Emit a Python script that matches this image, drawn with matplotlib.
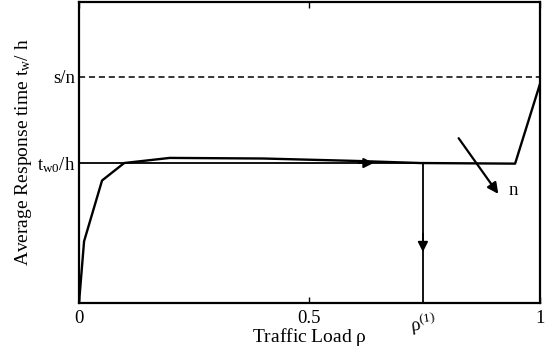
import matplotlib
matplotlib.use("Agg")
import matplotlib.pyplot as plt

plt.rcParams['font.family'] = ['Liberation Serif', 'DejaVu Serif']
plt.rcParams['mathtext.fontset'] = 'custom'
plt.rcParams['mathtext.rm'] = 'Liberation Serif'
plt.rcParams['mathtext.it'] = 'Liberation Serif'

# data
load = [0.0, 0.011, 0.05, 0.098, 0.197, 0.40, 0.60, 0.74, 0.946, 1.0]
resp = [0.0, 0.205, 0.407, 0.465, 0.482, 0.480, 0.472, 0.465, 0.463, 0.728]
s_over_n = 0.751
tw0_over_h = 0.465
rho1 = 0.746
xticks = [0, 0.5, 1]
xtick_labels = ['0', '0.5', '1']

fig = plt.figure(figsize=(5.49, 3.48), dpi=100)
ax = fig.add_axes([0.1439, 0.1293, 0.9836 - 0.1439, 0.9943 - 0.1293])
ax.set_xlim(0, 1)
ax.set_ylim(0, 1)

ax.plot(load, resp, color='black', lw=1.7)
ax.axhline(s_over_n, color='black', lw=1.1, ls=(0, (4, 2.5)))
ax.plot([0, rho1], [tw0_over_h, tw0_over_h], color='black', lw=1.3)
ax.plot([rho1, rho1], [0, tw0_over_h], color='black', lw=1.3)

# arrow heads
ax.annotate('', xy=(0.645, tw0_over_h), xytext=(0.60, tw0_over_h),
            arrowprops=dict(arrowstyle='-|>', color='black', lw=1.3,
                            mutation_scale=15))
ax.annotate('', xy=(rho1, 0.16), xytext=(rho1, 0.24),
            arrowprops=dict(arrowstyle='-|>', color='black', lw=1.3,
                            mutation_scale=15))
ax.annotate('', xy=(0.913, 0.355), xytext=(0.82, 0.555),
            arrowprops=dict(arrowstyle='-|>', color='black', lw=1.6,
                            mutation_scale=16))
ax.text(0.932, 0.375, 'n', fontsize=13.5, ha='left', va='center')

ax.set_xticks(xticks)
ax.set_xticklabels(xtick_labels, fontsize=13.5)
ax.tick_params(axis='x', direction='in', top=True, length=4, width=1, pad=5)
ax.set_yticks([s_over_n, tw0_over_h])
ax.set_yticklabels(['s/n', r'$\mathregular{t_{w0}/h}$'], fontsize=13.5)
ax.tick_params(axis='y', length=0, pad=3)

ax.text(rho1, -0.025, r'$\mathregular{\rho^{(1)}}$', fontsize=13.5,
        ha='center', va='top', rotation=8, transform=ax.transData)

for sp in ax.spines.values():
    sp.set_linewidth(1.6)

ax.set_xlabel(r'Traffic Load $\mathregular{\rho}$', fontsize=14, labelpad=-1)
ax.set_ylabel(r'Average Response time $\mathregular{t_w}$/ h', fontsize=14, labelpad=2)

fig.savefig('out.png', dpi=100)
